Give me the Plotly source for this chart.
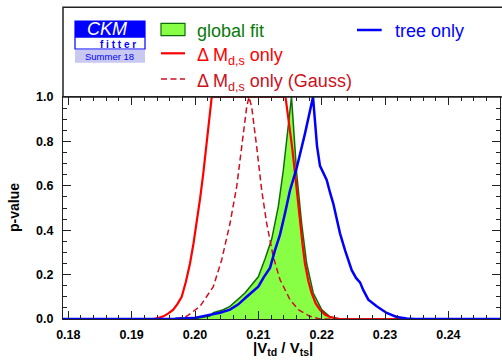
import plotly.graph_objects as go

# ---------------- data ----------------
global_v = [0.1790, 0.19968, 0.20079, 0.20237, 0.20289, 0.20447, 0.20552, 0.20789, 0.20999,
            0.21105, 0.21211, 0.21315, 0.21394, 0.21473, 0.21523, 0.21552, 0.21605, 0.21684,
            0.21763, 0.21867, 0.22000, 0.22131, 0.22257, 0.2482]
global_p = [0.0, 0.0, 0.006, 0.013, 0.028, 0.042, 0.057, 0.117, 0.19,
            0.27, 0.36, 0.506, 0.67, 0.88, 1.0, 0.88, 0.656, 0.43,
            0.25, 0.117, 0.042, 0.01, 0.0, 0.0]

dm_v = [0.1790, 0.19342, 0.19416, 0.19500, 0.19574, 0.19657, 0.19724, 0.19790, 0.19858,
        0.19921, 0.19976, 0.20027, 0.20079, 0.20131, 0.20174, 0.20210, 0.20237, 0.20264,
        0.21429, 0.21489, 0.21535, 0.21579, 0.21620, 0.21657, 0.21700, 0.21736, 0.21790,
        0.21842, 0.21905, 0.21973, 0.22050, 0.22131, 0.22289, 0.2482]
dm_p = [0.0, 0.0, 0.004, 0.012, 0.024, 0.042, 0.068, 0.10, 0.17,
        0.25, 0.34, 0.43, 0.54, 0.656, 0.76, 0.85, 0.93, 1.0,
        1.0, 0.88, 0.77, 0.656, 0.54, 0.43, 0.33, 0.25, 0.17,
        0.117, 0.07, 0.042, 0.02, 0.009, 0.0, 0.0]

gauss_v = [0.1790, 0.1961, 0.19763, 0.19868, 0.20079, 0.20289, 0.20421, 0.20552, 0.20658,
           0.20737, 0.20816, 0.20852, 0.20895, 0.20974, 0.21053, 0.21132, 0.21236, 0.21342,
           0.21500, 0.21631, 0.21815, 0.21973, 0.2482]
gauss_p = [0.0, 0.0, 0.005, 0.012, 0.057, 0.146, 0.266, 0.43, 0.596,
           0.775, 0.955, 1.0, 0.955, 0.775, 0.58, 0.43, 0.28, 0.177,
           0.087, 0.042, 0.012, 0.0, 0.0]

tree_v = [0.1790, 0.19448, 0.19684, 0.19973, 0.20079, 0.20237, 0.20395, 0.20552, 0.20679,
          0.20816, 0.20916, 0.20999, 0.21089, 0.21184, 0.21263, 0.21342, 0.21421, 0.21500,
          0.21605, 0.21736, 0.21863, 0.21894, 0.21926, 0.21973, 0.22020, 0.22079, 0.22131,
          0.22183, 0.22289, 0.22368, 0.22474, 0.22542, 0.22605, 0.22657, 0.22736, 0.22868,
          0.23026, 0.23184, 0.23342, 0.23473, 0.2482]
tree_p = [0.0, 0.0, 0.001, 0.004, 0.010, 0.016, 0.028, 0.042, 0.065,
          0.10, 0.125, 0.146, 0.19, 0.23, 0.31, 0.38, 0.476, 0.58,
          0.68, 0.835, 1.0, 0.90, 0.78, 0.69, 0.66, 0.626, 0.57,
          0.52, 0.386, 0.31, 0.22, 0.185, 0.165, 0.13, 0.087, 0.057,
          0.027, 0.009, 0.002, 0.0, 0.0]

x_ticks = [0.18, 0.19, 0.20, 0.21, 0.22, 0.23, 0.24]
x_tick_labels = ["0.18", "0.19", "0.20", "0.21", "0.22", "0.23", "0.24"]
y_ticks = [0.0, 0.2, 0.4, 0.6, 0.8, 1.0]
y_tick_labels = ["0.0", "0.2", "0.4", "0.6", "0.8", "1.0"]

legend_labels = ["global fit", "Δ M<sub>d,s</sub> only", "Δ M<sub>d,s</sub> only (Gauss)", "tree only"]

# ---------------- layout geometry ----------------
W, H = 502, 361
ML, MR, MT, MB = 63, 2, 97, 42
PW, PH = W - ML - MR, H - MT - MB


def px(x):
    return (x - ML) / PW


def py(y):
    return (H - MB - y) / PH


FONT = "Liberation Sans, Arial, Helvetica, sans-serif"
GREEN_FILL = "#88ff44"
GREEN_LINE = "#0b6e0b"
RED = "#ff0000"
DRED = "#cc1020"
BLUE = "#0000ff"
DASH = "6px,3.5px"

fig = go.Figure()
fig.add_trace(go.Scatter(x=global_v, y=global_p, mode="lines", fill="tozeroy",
                         fillcolor=GREEN_FILL, line=dict(color=GREEN_LINE, width=1.5),
                         showlegend=False, hoverinfo="skip"))
fig.add_trace(go.Scatter(x=dm_v, y=dm_p, mode="lines",
                         line=dict(color=RED, width=2.2), showlegend=False))
fig.add_trace(go.Scatter(x=gauss_v, y=gauss_p, mode="lines",
                         line=dict(color=DRED, width=1.5, dash=DASH), showlegend=False))
fig.add_trace(go.Scatter(x=tree_v, y=tree_p, mode="lines",
                         line=dict(color=BLUE, width=2.5), showlegend=False))

axis_common = dict(showline=True, linecolor="#222", linewidth=1, mirror="allticks",
                   ticks="inside", ticklen=8, tickwidth=1, tickcolor="#222",
                   showgrid=False, zeroline=False,
                   tickfont=dict(family=FONT, size=12.5, color="black", weight="bold"))

fig.update_xaxes(range=[0.17916, 0.24815], tickvals=x_ticks, ticktext=x_tick_labels,
                 minor=dict(dtick=0.002, tick0=0.18, ticks="inside", ticklen=4,
                            tickcolor="#222", tickwidth=1),
                 ticklabelstandoff=4, **axis_common)
fig.update_yaxes(range=[0, 1], tickvals=y_ticks, ticktext=y_tick_labels,
                 minor=dict(dtick=0.05, tick0=0, ticks="inside", ticklen=4,
                            tickcolor="#222", tickwidth=1),
                 ticklabelstandoff=6, **axis_common)

shapes = []
# legend frame
shapes.append(dict(type="rect", xref="paper", yref="paper", x0=px(63), x1=px(520),
                   y0=py(97), y1=py(7.3), line=dict(color="#222", width=1.5),
                   fillcolor="rgba(0,0,0,0)", layer="above"))
# CKMfitter logo
shapes.append(dict(type="rect", xref="paper", yref="paper", x0=px(75), x1=px(145),
                   y0=py(49), y1=py(21), line=dict(color=BLUE, width=1.2), fillcolor="white"))
shapes.append(dict(type="rect", xref="paper", yref="paper", x0=px(75), x1=px(145),
                   y0=py(37.7), y1=py(21), line=dict(width=0), fillcolor=BLUE))
shapes.append(dict(type="rect", xref="paper", yref="paper", x0=px(75), x1=px(145),
                   y0=py(62.7), y1=py(50), line=dict(width=0), fillcolor="#c8c8f0"))
# legend symbols
shapes.append(dict(type="rect", xref="paper", yref="paper", x0=px(161), x1=px(185),
                   y0=py(35.7), y1=py(23.3), line=dict(color=GREEN_LINE, width=1.2),
                   fillcolor=GREEN_FILL))
shapes.append(dict(type="line", xref="paper", yref="paper", x0=px(161), x1=px(185),
                   y0=py(53.3), y1=py(53.3), line=dict(color=RED, width=2.2)))
shapes.append(dict(type="line", xref="paper", yref="paper", x0=px(161), x1=px(185),
                   y0=py(79), y1=py(79), line=dict(color=DRED, width=1.5, dash=DASH)))
shapes.append(dict(type="line", xref="paper", yref="paper", x0=px(357), x1=px(381.7),
                   y0=py(30), y1=py(30), line=dict(color=BLUE, width=2.5)))

ann = []


def text(x, y, s, size, color, xanchor="left", **kw):
    ann.append(dict(x=px(x), y=py(y), xref="paper", yref="paper", text=s, showarrow=False,
                    xanchor=xanchor, yanchor="middle",
                    font=dict(family=FONT, size=size, color=color), **kw))


text(107, 29, "<i>CKM</i>", 18, "white", xanchor="center")
text(118, 44, "<b>f i t t e r</b>", 10, BLUE, xanchor="center")
text(109.5, 56.5, "Summer 18", 9.5, BLUE, xanchor="center")

text(195, 31, legend_labels[0], 18, "#0a7a0a")
text(195, 56, legend_labels[1], 18, RED)
text(195, 82, legend_labels[2], 18, DRED)
text(393, 31, legend_labels[3], 18, BLUE)

text(14, 208, "<b>p-value</b>", 14, "black", xanchor="center", textangle=-90)
text(283, 348.5, "<b>|V<sub>td</sub> / V<sub>ts</sub>|</b>", 15, "black", xanchor="center")

fig.update_layout(width=W, height=H, margin=dict(l=ML, r=MR, t=MT, b=MB),
                  plot_bgcolor="white", paper_bgcolor="white",
                  shapes=shapes, annotations=ann, showlegend=False,
                  font=dict(family=FONT))

fig.write_html("out.html", config={"displayModeBar": False},
               post_script="document.body.style.margin='0';")
